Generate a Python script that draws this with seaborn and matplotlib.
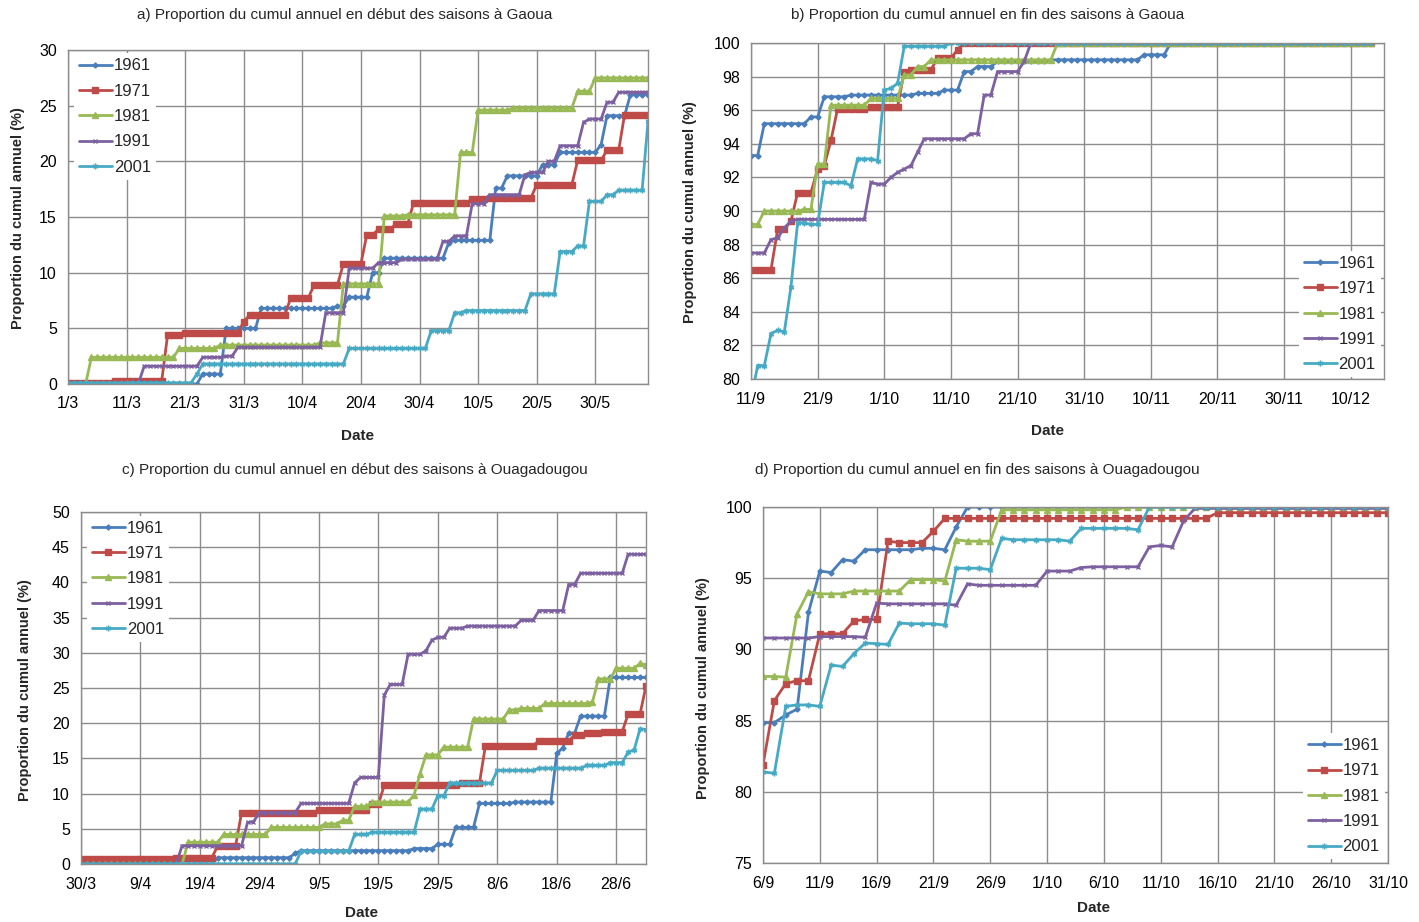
import numpy as np
import pandas as pd
import matplotlib
matplotlib.use("Agg")
import matplotlib.pyplot as plt
import seaborn as sns

# ---------------- DATA (day offset from first tick, value that starts that day) ----------------
YEARS = ["1961", "1971", "1981", "1991", "2001"]

# a) debut des saisons a Gaoua, day 0 = 1/3
A_1961 = [(0, 0.0), (23, 0.9), (27, 5.0), (33, 6.8), (46, 7.0), (48, 7.8), (52, 10.0), (54, 11.3),
          (65, 12.7), (66, 12.9), (73, 17.6), (75, 18.7), (81, 19.7), (84, 20.8), (91, 21.5),
          (92, 24.1), (96, 26.0)]
A_1971 = [(0, 0.1), (8, 0.3), (17, 4.4), (20, 4.6), (30, 5.6), (31, 6.2), (38, 7.7), (42, 8.9),
          (47, 10.8), (51, 13.4), (53, 13.9), (56, 14.4), (59, 16.3), (69, 16.6), (72, 16.7),
          (80, 17.9), (87, 20.1), (92, 21.0), (95, 24.2)]
A_1981 = [(0, 0.0), (4, 2.4), (19, 3.2), (26, 3.5), (43, 3.7), (47, 9.0), (54, 15.1), (58, 15.2),
          (67, 20.8), (70, 24.6), (76, 24.8), (87, 26.3), (90, 27.5)]
A_1991 = [(0, 0.0), (13, 1.6), (23, 2.4), (27, 2.5), (29, 3.3), (44, 6.4), (48, 10.4), (53, 10.9),
          (57, 11.2), (64, 12.8), (66, 13.3), (69, 16.2), (72, 17.0), (78, 18.8), (79, 19.0),
          (82, 20.0), (84, 21.4), (88, 23.5), (89, 23.8), (92, 25.3), (94, 26.2)]
A_2001 = [(0, 0.1), (22, 0.9), (23, 1.8), (48, 3.2), (62, 4.8), (66, 6.4), (68, 6.6), (79, 8.1),
          (84, 11.9), (87, 12.4), (89, 16.4), (92, 17.0), (94, 17.4), (99, 23.6)]
A_XLABELS = ["1/3", "11/3", "21/3", "31/3", "10/4", "20/4", "30/4", "10/5", "20/5", "30/5"]

# b) fin des saisons a Gaoua, day 0 = 11/9
B_1961 = [(0, 93.3), (2, 95.2), (9, 95.6), (11, 96.8), (15, 96.9), (25, 97.0), (29, 97.2),
          (32, 98.3), (34, 98.6), (37, 98.9), (45, 99.0), (59, 99.3), (63, 100.0)]
B_1971 = [(0, 86.5), (4, 88.9), (6, 89.4), (7, 91.1), (10, 92.5), (11, 92.7), (12, 94.2),
          (13, 96.1), (18, 96.2), (23, 98.3), (24, 98.4), (28, 99.1), (31, 99.6), (32, 100.0)]
B_1981 = [(0, 89.2), (2, 90.0), (8, 90.1), (10, 92.8), (12, 96.3), (18, 96.7), (23, 98.1),
          (25, 98.6), (27, 99.0), (46, 100.0)]
B_1991 = [(0, 87.5), (3, 88.3), (4, 88.4), (5, 89.0), (6, 89.4), (7, 89.5), (18, 91.7), (19, 91.6),
          (21, 92.0), (22, 92.3), (23, 92.5), (24, 92.7), (25, 93.5), (26, 94.3), (33, 94.6),
          (35, 96.9), (37, 98.3), (41, 98.9), (42, 100.0)]
B_2001 = [(0, 78.8), (1, 80.8), (3, 82.7), (4, 82.9), (5, 82.8), (6, 85.5), (7, 89.3), (9, 89.2),
          (11, 91.7), (15, 91.5), (16, 93.1), (19, 93.0), (20, 97.2), (21, 97.3), (22, 97.6),
          (23, 99.8), (30, 100.0)]
B_XLABELS = ["11/9", "21/9", "1/10", "11/10", "21/10", "31/10", "10/11", "20/11", "30/11", "10/12"]

# c) debut des saisons a Ouagadougou, day 0 = 30/3
C_1961 = [(0, 0.0), (23, 0.9), (36, 1.5), (37, 1.9), (56, 2.2), (60, 2.8), (63, 5.2), (67, 8.6),
          (73, 8.8), (80, 15.7), (81, 16.5), (82, 18.6), (84, 21.0), (89, 26.5)]
C_1971 = [(0, 0.7), (16, 0.9), (23, 2.6), (27, 7.3), (40, 7.7), (49, 8.5), (51, 11.2), (64, 11.5),
          (68, 16.8), (77, 17.5), (83, 18.3), (85, 18.6), (88, 18.8), (92, 21.3), (95, 25.3)]
C_1981 = [(0, 0.0), (18, 3.1), (24, 4.2), (32, 5.2), (41, 5.7), (44, 6.2), (46, 8.2), (49, 8.8),
          (56, 9.8), (57, 12.8), (58, 15.5), (61, 16.6), (66, 20.6), (72, 21.9), (74, 22.1),
          (78, 22.8), (86, 23.0), (87, 26.3), (90, 27.8), (94, 28.5), (95, 28.3)]
C_1991 = [(0, 0.0), (17, 2.6), (28, 5.9), (29, 6.0), (30, 7.3), (37, 8.6), (46, 11.5), (47, 12.3),
          (51, 24.0), (52, 25.5), (55, 29.8), (58, 30.3), (59, 31.8), (60, 32.2), (62, 33.5),
          (65, 33.8), (74, 34.6), (77, 36.0), (82, 39.7), (84, 41.3), (92, 44.0)]
C_2001 = [(0, 0.0), (37, 1.8), (46, 4.2), (49, 4.5), (57, 7.8), (60, 9.7), (62, 11.5), (70, 13.3),
          (77, 13.6), (85, 14.0), (89, 14.4), (92, 15.9), (93, 16.2), (94, 19.2), (95, 19.1)]
C_XLABELS = ["30/3", "9/4", "19/4", "29/4", "9/5", "19/5", "29/5", "8/6", "18/6", "28/6"]

# d) fin des saisons a Ouagadougou, day 0 = 6/9
D_1961 = [(0, 84.85), (2, 85.4), (3, 85.8), (4, 92.6), (5, 95.5), (6, 95.4), (7, 96.3), (8, 96.2),
          (9, 97.0), (14, 97.1), (16, 97.0), (17, 98.6), (18, 100.0)]
D_1971 = [(0, 81.9), (1, 86.4), (2, 87.6), (3, 87.8), (5, 91.1), (8, 92.0), (9, 92.1), (11, 97.6),
          (12, 97.5), (15, 98.3), (16, 99.2), (40, 99.6)]
D_1981 = [(0, 88.1), (2, 88.05), (3, 92.5), (4, 94.05), (5, 93.9), (8, 94.1), (13, 94.9),
          (16, 94.8), (17, 97.7), (18, 97.6), (21, 99.8), (32, 100.0)]
D_1991 = [(0, 90.8), (5, 90.9), (9, 90.85), (10, 93.25), (11, 93.2), (17, 93.1), (18, 94.6),
          (19, 94.5), (25, 95.5), (28, 95.75), (29, 95.8), (34, 97.2), (35, 97.3), (36, 97.2),
          (37, 99.0), (38, 99.9)]
D_2001 = [(0, 81.4), (1, 81.3), (2, 86.0), (3, 86.1), (5, 86.0), (6, 88.9), (7, 88.8), (8, 89.7),
          (9, 90.45), (10, 90.4), (11, 90.35), (12, 91.85), (13, 91.8), (16, 91.7), (17, 95.7),
          (20, 95.6), (21, 97.8), (22, 97.7), (27, 97.6), (28, 98.5), (33, 98.4), (34, 100.0)]
D_XLABELS = ["6/9", "11/9", "16/9", "21/9", "26/9", "1/10", "6/10", "11/10", "16/10", "21/10",
             "26/10", "31/10"]

# ---------------- STYLE ----------------
sns.set_theme(style="whitegrid")
plt.rcParams["font.family"] = ["Liberation Sans", "DejaVu Sans"]

COLORS = ["#4a7ebb", "#be4b48", "#98b954", "#7d60a0", "#46aac5"]
MARKERS = ["D", "s", "^", "x", (6, 2, 0)]
MSIZES = [2.6, 4.6, 4.2, 3.4, 4.0]
GRID = "#8c8c8c"

W, H = 1419, 922
fig = plt.figure(figsize=(W / 100, H / 100), dpi=100)


def to_daily(steps, last_day):
    # plateau list -> one value per day (each value held until the next step)
    starts = np.array([s[0] for s in steps])
    vals = np.array([s[1] for s in steps])
    days = np.arange(last_day + 1)
    idx = np.searchsorted(starts, days, side="right") - 1
    return days, vals[idx]


def make_axes(px_left, px_top, px_right, px_bottom):
    return fig.add_axes([px_left / W, 1 - px_bottom / H,
                         (px_right - px_left) / W, (px_bottom - px_top) / H])


def draw_panel(ax, series, last_day, xmax, xstep, xlabels, ylim, ystep, legend_loc, legend_anchor):
    for year, steps, color, marker, ms in zip(YEARS, series, COLORS, MARKERS, MSIZES):
        days, vals = to_daily(steps, last_day)
        df = pd.DataFrame({"day": days, "value": vals})
        sns.lineplot(data=df, x="day", y="value", ax=ax, color=color, linewidth=2.0,
                     marker=marker, markersize=ms, markeredgecolor=color,
                     markeredgewidth=1.0, label=year)
    ax.set_xlim(0, xmax)
    ax.set_ylim(*ylim)
    ax.set_xticks(np.arange(len(xlabels)) * xstep)
    ax.set_xticklabels(xlabels)
    ax.set_yticks(np.arange(ylim[0], ylim[1] + 0.1, ystep))
    ax.set_xlabel("")
    ax.set_ylabel("")
    ax.grid(True, color=GRID, linewidth=1.0)
    ax.set_axisbelow(True)
    for sp in ax.spines.values():
        sp.set_color(GRID)
        sp.set_linewidth(1.0)
    ax.tick_params(axis="both", which="major", direction="out", length=4, width=1,
                   color=GRID, labelsize=11.5, labelcolor="#000000")
    ax.tick_params(axis="x", pad=5)
    ax.tick_params(axis="y", pad=4)
    leg = ax.legend(loc=legend_loc, bbox_to_anchor=legend_anchor, frameon=True,
                    fancybox=False, framealpha=1, facecolor="white", edgecolor="none",
                    fontsize=12, handlelength=2.0, handletextpad=0.1, labelspacing=0.62,
                    borderpad=0.3, borderaxespad=0.0)
    return leg


# a)
ax_a = make_axes(68, 50, 648, 384)
draw_panel(ax_a, [A_1961, A_1971, A_1981, A_1991, A_2001], 99, 99, 10, A_XLABELS,
           (0, 30), 5, "upper left", (0.01, 0.99))
# b)
ax_b = make_axes(751, 43, 1384, 379)
draw_panel(ax_b, [B_1961, B_1971, B_1981, B_1991, B_2001], 93, 95, 10, B_XLABELS,
           (80, 100), 2, "lower right", (0.995, 0.005))
# c)
ax_c = make_axes(81, 512, 646, 864)
draw_panel(ax_c, [C_1961, C_1971, C_1981, C_1991, C_2001], 95, 95, 10, C_XLABELS,
           (0, 50), 5, "upper left", (0.01, 0.99))
# d)
ax_d = make_axes(763, 507, 1388, 863)
draw_panel(ax_d, [D_1961, D_1971, D_1981, D_1991, D_2001], 55, 55, 5, D_XLABELS,
           (75, 100), 5, "lower right", (0.995, 0.01))

# titles and axis labels
TITLES = ["a) Proportion du cumul annuel en début des saisons à Gaoua",
          "b) Proportion du cumul annuel en fin des saisons à Gaoua",
          "c) Proportion du cumul annuel en début des saisons à Ouagadougou",
          "d) Proportion du cumul annuel en fin des saisons à Ouagadougou"]
YLABEL = "Proportion du cumul annuel (%)"
XLABEL = "Date"

for title, (tx, ty) in zip(TITLES, [(345, 15), (988, 15), (355, 470), (977, 470)]):
    fig.text(tx / W, 1 - ty / H, title, ha="center", va="center", fontsize=11)
for (lx, ly) in [(18, 218), (690, 212), (25, 690), (703, 688)]:
    fig.text(lx / W, 1 - ly / H, YLABEL, ha="center", va="center", rotation=90,
             fontsize=10.5, fontweight="bold")
for (dx, dy) in [(357, 436), (1048, 431), (362, 913), (1094, 908)]:
    fig.text(dx / W, 1 - dy / H, XLABEL, ha="center", va="center", fontsize=11,
             fontweight="bold")

fig.savefig("out.png", dpi=100, facecolor="white")
